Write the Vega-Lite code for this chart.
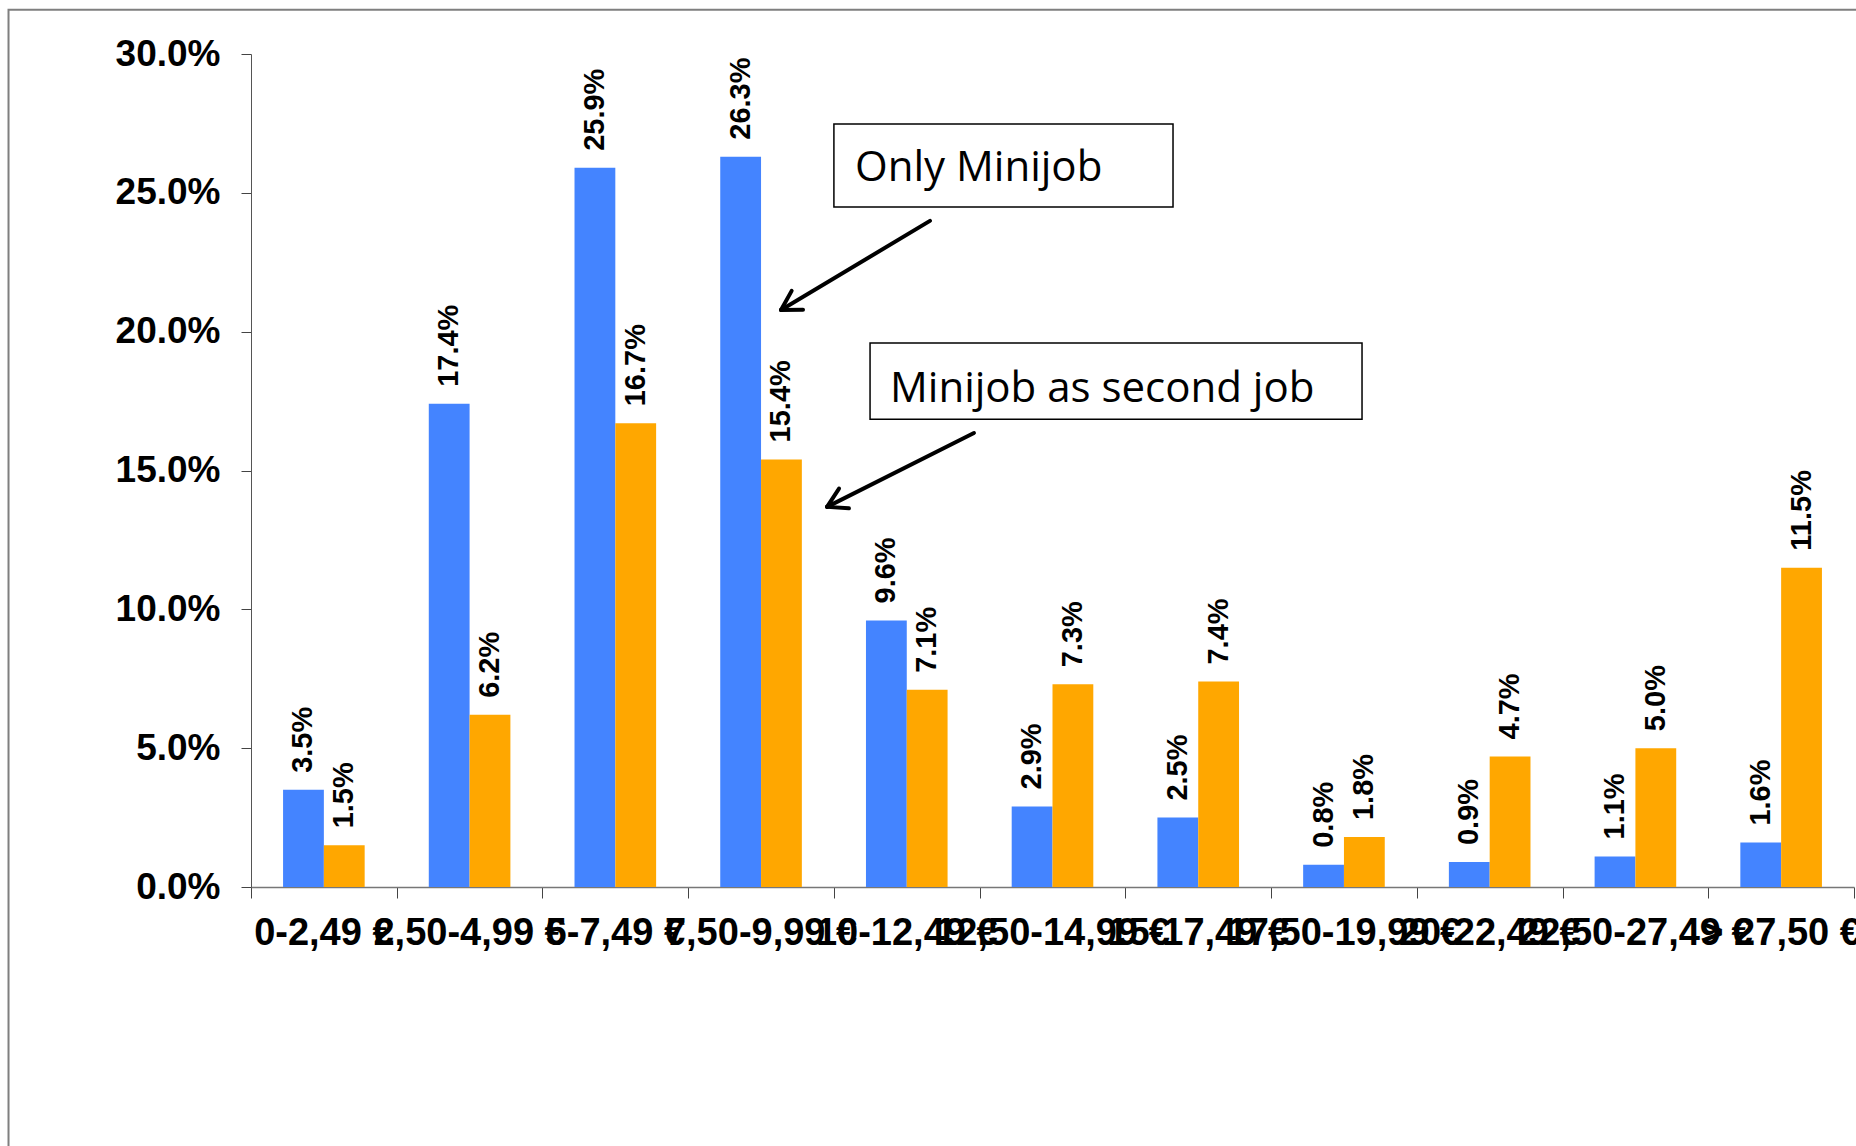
{
  "$schema": "https://vega.github.io/schema/vega-lite/v6.json",
  "width": 1603,
  "height": 833,
  "autosize": {"type": "none"},
  "padding": {"left": 251, "top": 54, "right": 2, "bottom": 259},
  "background": "white",
  "config": {"view": {"stroke": null}},
  "layer": [
    {
      "data": {
        "values": [
          {"band": "0-2,49 €", "series": "Only Minijob", "share": 0.035},
          {"band": "0-2,49 €", "series": "Minijob as second job", "share": 0.015},
          {"band": "2,50-4,99 €", "series": "Only Minijob", "share": 0.174},
          {"band": "2,50-4,99 €", "series": "Minijob as second job", "share": 0.062},
          {"band": "5-7,49 €", "series": "Only Minijob", "share": 0.259},
          {"band": "5-7,49 €", "series": "Minijob as second job", "share": 0.167},
          {"band": "7,50-9,99 €", "series": "Only Minijob", "share": 0.263},
          {"band": "7,50-9,99 €", "series": "Minijob as second job", "share": 0.154},
          {"band": "10-12,49 €", "series": "Only Minijob", "share": 0.096},
          {"band": "10-12,49 €", "series": "Minijob as second job", "share": 0.071},
          {"band": "12,50-14,99 €", "series": "Only Minijob", "share": 0.029},
          {"band": "12,50-14,99 €", "series": "Minijob as second job", "share": 0.073},
          {"band": "15-17,49 €", "series": "Only Minijob", "share": 0.025},
          {"band": "15-17,49 €", "series": "Minijob as second job", "share": 0.074},
          {"band": "17,50-19,99 €", "series": "Only Minijob", "share": 0.008},
          {"band": "17,50-19,99 €", "series": "Minijob as second job", "share": 0.018},
          {"band": "20-22,49 €", "series": "Only Minijob", "share": 0.009},
          {"band": "20-22,49 €", "series": "Minijob as second job", "share": 0.047},
          {"band": "22,50-27,49 €", "series": "Only Minijob", "share": 0.011},
          {"band": "22,50-27,49 €", "series": "Minijob as second job", "share": 0.050},
          {"band": "> 27,50 €", "series": "Only Minijob", "share": 0.016},
          {"band": "> 27,50 €", "series": "Minijob as second job", "share": 0.115}
        ]
      },
      "encoding": {
        "x": {
          "field": "band",
          "type": "nominal",
          "sort": null,
          "scale": {"paddingInner": 0.44, "paddingOuter": 0.22},
          "axis": {
            "title": null,
            "ticks": false,
            "tickSize": 0,
            "domain": false,
            "labelAngle": 0,
            "labelAlign": "center",
            "labelBaseline": "top",
            "labelFont": "Liberation Sans",
            "labelFontSize": 38,
            "labelFontWeight": "bold",
            "labelColor": "black",
            "labelPadding": 27,
            "labelOverlap": false,
            "labelBound": false,
            "labelFlush": false,
            "labelLimit": 400
          }
        },
        "xOffset": {
          "field": "series",
          "type": "nominal",
          "sort": null,
          "scale": {"paddingInner": 0, "paddingOuter": 0}
        },
        "y": {
          "field": "share",
          "type": "quantitative",
          "scale": {"domain": [0, 0.3], "nice": false, "zero": true},
          "axis": {
            "title": null,
            "values": [0, 0.05, 0.1, 0.15, 0.2, 0.25, 0.3],
            "format": ".1%",
            "grid": false,
            "tickSize": 10,
            "tickColor": "#444444",
            "domainColor": "#555555",
            "labelFont": "Liberation Sans",
            "labelFontSize": 37,
            "labelFontWeight": "bold",
            "labelColor": "black",
            "labelPadding": 21,
            "labelOverlap": false,
            "labelBound": false,
            "labelFlush": false
          }
        }
      },
      "layer": [
        {
          "mark": {"type": "bar"},
          "encoding": {
            "color": {
              "field": "series",
              "type": "nominal",
              "sort": null,
              "scale": {
                "domain": ["Only Minijob", "Minijob as second job"],
                "range": ["#4484FF", "#FFA700"]
              },
              "legend": null
            }
          }
        },
        {
          "mark": {
            "type": "text",
            "angle": 270,
            "align": "left",
            "baseline": "middle",
            "dx": 17,
            "font": "Liberation Sans",
            "fontSize": 29,
            "fontWeight": "bold",
            "color": "black"
          },
          "encoding": {
            "text": {"field": "share", "type": "quantitative", "format": ".1%"}
          }
        }
      ]
    },
    {
      "data": {"values": [{}]},
      "layer": [
        {
          "mark": {"type": "rect", "filled": false, "stroke": "#7f7f7f", "strokeWidth": 2},
          "encoding": {
            "x": {"datum": -1.664, "type": "quantitative", "scale": {"domain": [0, 11], "nice": false, "zero": false},
              "axis": {"orient": "bottom", "title": null, "values": [0, 1, 2, 3, 4, 5, 6, 7, 8, 9, 10, 11], "labels": false, "grid": false, "tickSize": 11, "tickColor": "#444444", "domainColor": "#777777", "domainWidth": 1.5}},
            "x2": {"datum": 11.6},
            "y": {"datum": 0.3159, "type": "quantitative", "scale": {"domain": [0, 0.3], "nice": false, "zero": true}, "axis": null},
            "y2": {"datum": -0.15}
          }
        },
        {
          "mark": {"type": "rect", "fill": "white", "stroke": "black", "strokeWidth": 1.5},
          "encoding": {
            "x": {"datum": 4.0, "type": "quantitative", "scale": {"domain": [0, 11], "nice": false, "zero": false},
              "axis": {"orient": "bottom", "title": null, "values": [0, 1, 2, 3, 4, 5, 6, 7, 8, 9, 10, 11], "labels": false, "grid": false, "tickSize": 11, "tickColor": "#444444", "domainColor": "#777777", "domainWidth": 1.5}},
            "x2": {"datum": 6.327},
            "y": {"datum": 0.2748, "type": "quantitative", "scale": {"domain": [0, 0.3], "nice": false, "zero": true}, "axis": null},
            "y2": {"datum": 0.2449}
          }
        },
        {
          "mark": {"type": "text", "text": "Only Minijob", "align": "left", "baseline": "middle", "font": "Open Sans", "fontSize": 42, "color": "black"},
          "encoding": {
            "x": {"datum": 4.145, "type": "quantitative", "scale": {"domain": [0, 11], "nice": false, "zero": false},
              "axis": {"orient": "bottom", "title": null, "values": [0, 1, 2, 3, 4, 5, 6, 7, 8, 9, 10, 11], "labels": false, "grid": false, "tickSize": 11, "tickColor": "#444444", "domainColor": "#777777", "domainWidth": 1.5}},
            "y": {"datum": 0.2589, "type": "quantitative", "scale": {"domain": [0, 0.3], "nice": false, "zero": true}, "axis": null}
          }
        },
        {
          "mark": {"type": "rect", "fill": "white", "stroke": "black", "strokeWidth": 1.5},
          "encoding": {
            "x": {"datum": 4.248, "type": "quantitative", "scale": {"domain": [0, 11], "nice": false, "zero": false},
              "axis": {"orient": "bottom", "title": null, "values": [0, 1, 2, 3, 4, 5, 6, 7, 8, 9, 10, 11], "labels": false, "grid": false, "tickSize": 11, "tickColor": "#444444", "domainColor": "#777777", "domainWidth": 1.5}},
            "x2": {"datum": 7.624},
            "y": {"datum": 0.1959, "type": "quantitative", "scale": {"domain": [0, 0.3], "nice": false, "zero": true}, "axis": null},
            "y2": {"datum": 0.1685}
          }
        },
        {
          "mark": {"type": "text", "text": "Minijob as second job", "align": "left", "baseline": "middle", "font": "Open Sans", "fontSize": 42, "color": "black"},
          "encoding": {
            "x": {"datum": 4.385, "type": "quantitative", "scale": {"domain": [0, 11], "nice": false, "zero": false},
              "axis": {"orient": "bottom", "title": null, "values": [0, 1, 2, 3, 4, 5, 6, 7, 8, 9, 10, 11], "labels": false, "grid": false, "tickSize": 11, "tickColor": "#444444", "domainColor": "#777777", "domainWidth": 1.5}},
            "y": {"datum": 0.1794, "type": "quantitative", "scale": {"domain": [0, 0.3], "nice": false, "zero": true}, "axis": null}
          }
        },
        {
          "mark": {"type": "rule", "color": "black", "strokeWidth": 4, "strokeCap": "round"},
          "encoding": {
            "x": {"datum": 4.659, "type": "quantitative", "scale": {"domain": [0, 11], "nice": false, "zero": false},
              "axis": {"orient": "bottom", "title": null, "values": [0, 1, 2, 3, 4, 5, 6, 7, 8, 9, 10, 11], "labels": false, "grid": false, "tickSize": 11, "tickColor": "#444444", "domainColor": "#777777", "domainWidth": 1.5}},
            "x2": {"datum": 3.637},
            "y": {"datum": 0.2399, "type": "quantitative", "scale": {"domain": [0, 0.3], "nice": false, "zero": true}, "axis": null},
            "y2": {"datum": 0.2078}
          }
        },
        {
          "mark": {"type": "rule", "color": "black", "strokeWidth": 4, "strokeCap": "round"},
          "encoding": {
            "x": {"datum": 3.637, "type": "quantitative", "scale": {"domain": [0, 11], "nice": false, "zero": false},
              "axis": {"orient": "bottom", "title": null, "values": [0, 1, 2, 3, 4, 5, 6, 7, 8, 9, 10, 11], "labels": false, "grid": false, "tickSize": 11, "tickColor": "#444444", "domainColor": "#777777", "domainWidth": 1.5}},
            "x2": {"datum": 3.788},
            "y": {"datum": 0.2078, "type": "quantitative", "scale": {"domain": [0, 0.3], "nice": false, "zero": true}, "axis": null},
            "y2": {"datum": 0.2079}
          }
        },
        {
          "mark": {"type": "rule", "color": "black", "strokeWidth": 4, "strokeCap": "round"},
          "encoding": {
            "x": {"datum": 3.637, "type": "quantitative", "scale": {"domain": [0, 11], "nice": false, "zero": false},
              "axis": {"orient": "bottom", "title": null, "values": [0, 1, 2, 3, 4, 5, 6, 7, 8, 9, 10, 11], "labels": false, "grid": false, "tickSize": 11, "tickColor": "#444444", "domainColor": "#777777", "domainWidth": 1.5}},
            "x2": {"datum": 3.710},
            "y": {"datum": 0.2078, "type": "quantitative", "scale": {"domain": [0, 0.3], "nice": false, "zero": true}, "axis": null},
            "y2": {"datum": 0.2147}
          }
        },
        {
          "mark": {"type": "rule", "color": "black", "strokeWidth": 4, "strokeCap": "round"},
          "encoding": {
            "x": {"datum": 4.961, "type": "quantitative", "scale": {"domain": [0, 11], "nice": false, "zero": false},
              "axis": {"orient": "bottom", "title": null, "values": [0, 1, 2, 3, 4, 5, 6, 7, 8, 9, 10, 11], "labels": false, "grid": false, "tickSize": 11, "tickColor": "#444444", "domainColor": "#777777", "domainWidth": 1.5}},
            "x2": {"datum": 3.953},
            "y": {"datum": 0.1635, "type": "quantitative", "scale": {"domain": [0, 0.3], "nice": false, "zero": true}, "axis": null},
            "y2": {"datum": 0.1369}
          }
        },
        {
          "mark": {"type": "rule", "color": "black", "strokeWidth": 4, "strokeCap": "round"},
          "encoding": {
            "x": {"datum": 3.953, "type": "quantitative", "scale": {"domain": [0, 11], "nice": false, "zero": false},
              "axis": {"orient": "bottom", "title": null, "values": [0, 1, 2, 3, 4, 5, 6, 7, 8, 9, 10, 11], "labels": false, "grid": false, "tickSize": 11, "tickColor": "#444444", "domainColor": "#777777", "domainWidth": 1.5}},
            "x2": {"datum": 4.103},
            "y": {"datum": 0.1369, "type": "quantitative", "scale": {"domain": [0, 0.3], "nice": false, "zero": true}, "axis": null},
            "y2": {"datum": 0.1364}
          }
        },
        {
          "mark": {"type": "rule", "color": "black", "strokeWidth": 4, "strokeCap": "round"},
          "encoding": {
            "x": {"datum": 3.953, "type": "quantitative", "scale": {"domain": [0, 11], "nice": false, "zero": false},
              "axis": {"orient": "bottom", "title": null, "values": [0, 1, 2, 3, 4, 5, 6, 7, 8, 9, 10, 11], "labels": false, "grid": false, "tickSize": 11, "tickColor": "#444444", "domainColor": "#777777", "domainWidth": 1.5}},
            "x2": {"datum": 4.035},
            "y": {"datum": 0.1369, "type": "quantitative", "scale": {"domain": [0, 0.3], "nice": false, "zero": true}, "axis": null},
            "y2": {"datum": 0.1435}
          }
        }
      ]
    }
  ],
  "resolve": {
    "scale": {"x": "independent", "y": "independent"},
    "axis": {"x": "independent", "y": "independent"}
  }
}
